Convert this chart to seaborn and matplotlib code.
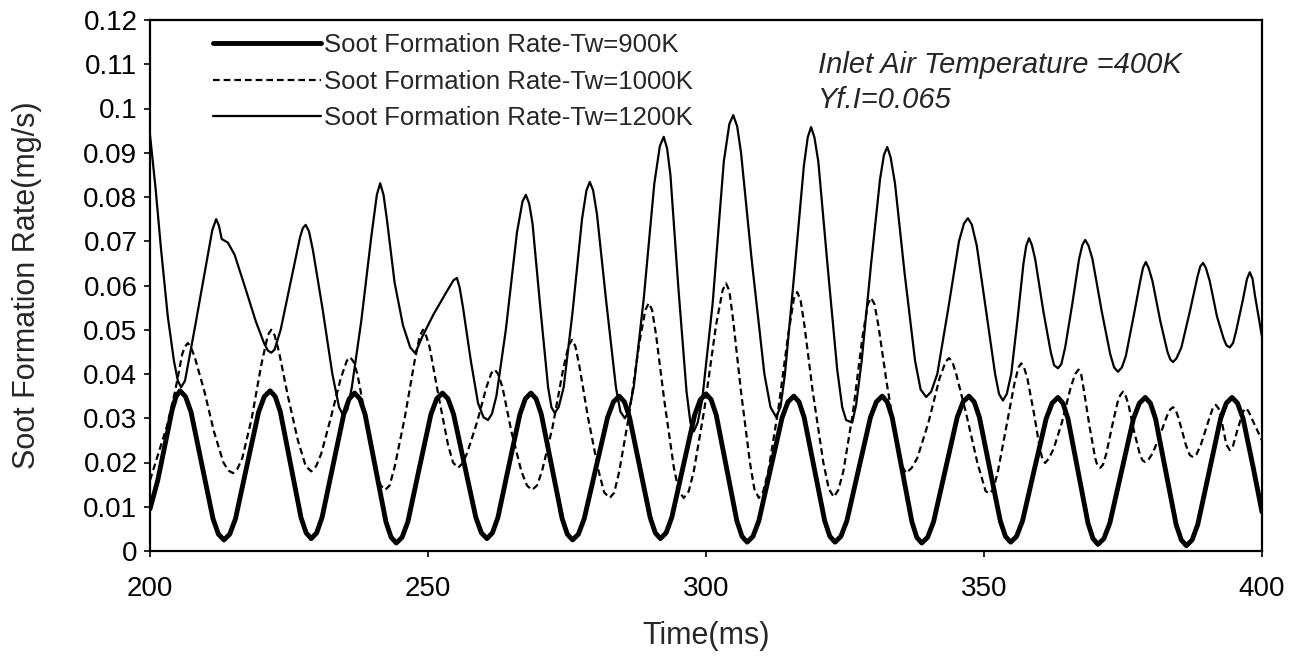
import matplotlib
matplotlib.use("Agg")
import matplotlib.pyplot as plt
import seaborn as sns
import pandas as pd

# ---- data (time in ms, rate in mg/s) ----
t900 = [200, 201.4, 202.7, 204.0, 204.7, 205.4,
        206.39, 207.38, 209.35, 211.33, 212.31, 213.3,
        214.34, 215.38, 217.45, 219.53, 220.56, 221.6,
        222.53, 223.45, 225.3, 227.15, 228.08, 229.0,
        229.98, 230.95, 232.9, 234.85, 235.83, 236.8,
        237.74, 238.68, 240.55, 242.43, 243.36, 244.3,
        245.34, 246.38, 248.45, 250.53, 251.56, 252.6,
        253.6, 254.6, 256.6, 258.6, 259.6, 260.6,
        261.59, 262.58, 264.55, 266.53, 267.51, 268.5,
        269.44, 270.38, 272.25, 274.13, 275.06, 276.0,
        277.05, 278.1, 280.2, 282.3, 283.35, 284.4,
        285.33, 286.25, 288.1, 289.95, 290.88, 291.8,
        292.83, 293.85, 295.9, 297.95, 298.98, 300.0,
        300.93, 301.85, 303.7, 305.55, 306.48, 307.4,
        308.45, 309.5, 311.6, 313.7, 314.75, 315.8,
        316.73, 317.65, 319.5, 321.35, 322.28, 323.2,
        324.26, 325.33, 327.45, 329.58, 330.64, 331.7,
        332.59, 333.48, 335.25, 337.03, 337.91, 338.8,
        339.86, 340.93, 343.05, 345.18, 346.24, 347.3,
        348.24, 349.18, 351.05, 352.93, 353.86, 354.8,
        355.86, 356.93, 359.05, 361.18, 362.24, 363.3,
        364.2, 365.1, 366.9, 368.7, 369.6, 370.5,
        371.56, 372.63, 374.75, 376.88, 377.94, 379.0,
        379.93, 380.85, 382.7, 384.55, 385.48, 386.4,
        387.43, 388.45, 390.5, 392.55, 393.58, 394.6,
        395.6, 396.6, 398.4, 400]
v900 = [0.0095, 0.0160, 0.0240, 0.0320, 0.0349, 0.0362,
        0.0349, 0.0314, 0.0194, 0.0073, 0.0038, 0.0025,
        0.0038, 0.0073, 0.0194, 0.0314, 0.0349, 0.0362,
        0.0349, 0.0314, 0.0195, 0.0076, 0.0041, 0.0028,
        0.0041, 0.0076, 0.0193, 0.0309, 0.0344, 0.0357,
        0.0344, 0.0309, 0.0188, 0.0066, 0.0031, 0.0018,
        0.0031, 0.0066, 0.0188, 0.0309, 0.0344, 0.0357,
        0.0344, 0.0309, 0.0193, 0.0076, 0.0041, 0.0028,
        0.0041, 0.0076, 0.0193, 0.0309, 0.0344, 0.0357,
        0.0344, 0.0309, 0.0191, 0.0073, 0.0038, 0.0025,
        0.0038, 0.0073, 0.0188, 0.0302, 0.0337, 0.0350,
        0.0337, 0.0302, 0.0189, 0.0076, 0.0041, 0.0028,
        0.0041, 0.0076, 0.0192, 0.0307, 0.0342, 0.0355,
        0.0342, 0.0307, 0.0188, 0.0068, 0.0033, 0.0020,
        0.0033, 0.0068, 0.0185, 0.0302, 0.0337, 0.0350,
        0.0337, 0.0302, 0.0185, 0.0068, 0.0033, 0.0020,
        0.0033, 0.0068, 0.0185, 0.0302, 0.0337, 0.0350,
        0.0337, 0.0302, 0.0184, 0.0066, 0.0031, 0.0018,
        0.0031, 0.0066, 0.0184, 0.0302, 0.0337, 0.0350,
        0.0337, 0.0302, 0.0185, 0.0068, 0.0033, 0.0020,
        0.0033, 0.0068, 0.0184, 0.0299, 0.0334, 0.0347,
        0.0334, 0.0299, 0.0181, 0.0063, 0.0028, 0.0015,
        0.0028, 0.0063, 0.0181, 0.0299, 0.0334, 0.0347,
        0.0334, 0.0299, 0.0180, 0.0060, 0.0025, 0.0012,
        0.0025, 0.0060, 0.0180, 0.0299, 0.0334, 0.0347,
        0.0334, 0.0299, 0.0190, 0.0088]

t1000 = [200, 201.5, 203.0, 204.5, 205.8, 206.3, 206.8, 207.3,
         208.0, 209.8, 211.5, 213.2, 214.1, 214.9, 215.7,
         216.6, 218.3, 220.0, 221.2, 221.8, 222.4,
         223.2, 224.8, 226.6, 228.0, 229.0, 229.9,
         230.8, 232.5, 234.3, 235.4, 236.0, 236.6,
         237.3, 238.8, 240.5, 241.5, 242.3, 243.1,
         244.0, 245.8, 247.6, 248.5, 249.1, 249.7,
         250.3, 251.9, 253.6, 254.5, 255.4, 256.2,
         257.0, 258.8, 260.5, 261.4, 262.0, 262.6,
         263.4, 265.0, 266.8, 267.8, 268.7, 269.6,
         270.5, 272.4, 274.3, 275.3, 275.9, 276.5,
         277.2, 278.8, 280.7, 281.7, 282.7, 283.5,
         284.4, 286.2, 288.0, 289.1, 289.7, 290.3,
         291.0, 292.5, 294.2, 295.1, 296.0, 296.9,
         297.8, 299.7, 301.8, 303.0, 303.6, 304.2,
         304.9, 306.3, 307.9, 308.7, 309.5, 310.3,
         311.2, 313.0, 314.8, 315.8, 316.4, 317.0,
         317.7, 319.2, 321.1, 322.1, 323.0, 323.8,
         324.7, 326.4, 328.1, 329.1, 329.7, 330.3,
         331.0, 332.5, 334.2, 335.1, 336.0, 337.0,
         338.0, 340.0, 342.0, 343.1, 343.7, 344.3,
         345.0, 346.8, 348.8, 350.3, 351.0, 351.7,
         352.5, 354.0, 355.5, 356.2, 356.7, 357.2,
         357.8, 359.0, 360.0, 360.5, 361.0, 361.6,
         362.5, 364.0, 365.6, 366.4, 367.0, 367.5,
         368.0, 369.0, 370.0, 370.4, 370.9, 371.4,
         372.0, 373.0, 374.0, 374.5, 375.0, 375.5,
         376.0, 377.0, 378.0, 378.5, 379.0, 379.6,
         380.3, 381.6, 382.9, 383.5, 384.0, 384.5,
         385.0, 386.3, 387.0, 387.6, 388.2,
         389.0, 390.4, 391.2, 391.7, 392.2,
         392.8, 393.6, 394.2, 394.8,
         395.5, 396.6, 397.1, 397.6, 398.5, 400]
v1000 = [0.016, 0.022, 0.028, 0.036, 0.0445, 0.0462, 0.0470, 0.0462,
         0.044, 0.036, 0.027, 0.020, 0.0182, 0.0176, 0.0185,
         0.021, 0.030, 0.042, 0.0488, 0.0500, 0.0488,
         0.045, 0.035, 0.025, 0.0192, 0.0180, 0.0192,
         0.022, 0.030, 0.039, 0.0430, 0.0438, 0.0428,
         0.040, 0.030, 0.019, 0.0148, 0.0138, 0.0148,
         0.019, 0.030, 0.043, 0.0485, 0.0500, 0.0485,
         0.046, 0.035, 0.024, 0.0200, 0.0188, 0.0198,
         0.022, 0.029, 0.037, 0.0402, 0.0410, 0.0400,
         0.037, 0.027, 0.018, 0.0148, 0.0138, 0.0148,
         0.018, 0.028, 0.041, 0.0465, 0.0477, 0.0463,
         0.042, 0.030, 0.018, 0.0132, 0.0120, 0.0132,
         0.018, 0.031, 0.047, 0.0545, 0.0560, 0.0545,
         0.049, 0.034, 0.019, 0.0135, 0.0120, 0.0135,
         0.018, 0.032, 0.051, 0.0590, 0.0605, 0.0588,
         0.052, 0.036, 0.020, 0.0140, 0.0120, 0.0135,
         0.018, 0.032, 0.049, 0.0570, 0.0585, 0.0568,
         0.051, 0.036, 0.020, 0.0140, 0.0122, 0.0138,
         0.018, 0.031, 0.048, 0.0558, 0.0572, 0.0558,
         0.051, 0.038, 0.025, 0.0195, 0.0176, 0.0188,
         0.021, 0.029, 0.039, 0.0428, 0.0436, 0.0428,
         0.040, 0.031, 0.020, 0.0135, 0.0130, 0.0140,
         0.018, 0.028, 0.038, 0.0415, 0.0424, 0.0415,
         0.039, 0.031, 0.0235, 0.0208, 0.0199, 0.0208,
         0.023, 0.029, 0.037, 0.0400, 0.0410, 0.0398,
         0.036, 0.028, 0.0210, 0.0193, 0.0188, 0.0195,
         0.022, 0.028, 0.0335, 0.0352, 0.0360, 0.0350,
         0.033, 0.027, 0.0220, 0.0205, 0.0201, 0.0207,
         0.022, 0.026, 0.0305, 0.0320, 0.0325, 0.0318,
         0.030, 0.024, 0.0217, 0.0212, 0.0218,
         0.024, 0.0295, 0.0325, 0.0330, 0.0322,
         0.029, 0.0240, 0.0228, 0.0238,
         0.027, 0.0315, 0.0323, 0.0315, 0.029, 0.025]

t1200 = [200, 201.0, 202.0, 203.2, 204.3, 205.0, 205.6, 206.3,
         208.0, 210.0, 211.2, 211.9, 212.4, 212.9, 214.0, 215.2,
         217.0, 219.0, 220.5, 221.2, 221.8, 222.4,
         223.5, 225.5, 227.0, 227.5, 228.0, 228.6,
         229.3, 231.0, 232.8, 234.0, 234.8, 235.5,
         236.3, 238.0, 239.8, 240.8, 241.4, 242.0,
         242.6, 244.0, 245.5, 246.8, 247.7,
         249.0, 251.0, 253.3, 254.6, 255.2, 255.7,
         256.3, 257.7, 259.0, 260.0, 260.8, 261.5,
         262.3, 264.0, 266.0, 267.0, 267.6, 268.2,
         268.8, 270.2, 271.6, 272.2, 272.8, 273.5,
         274.4, 276.0, 277.7, 278.5, 279.1, 279.7,
         280.4, 282.0, 283.8, 284.6, 285.4, 286.1,
         287.0, 288.8, 290.7, 291.7, 292.4, 293.0,
         293.6, 295.0, 296.5, 297.2, 297.8, 298.5,
         299.3, 301.2, 303.2, 304.2, 304.9, 305.6,
         306.3, 308.2, 310.5, 311.6, 312.6, 313.4,
         314.2, 315.9, 317.6, 318.3, 318.9, 319.5,
         320.2, 321.9, 323.6, 324.5, 325.2, 326.3, 327.0,
         328.0, 329.7, 331.3, 332.0, 332.6, 333.2,
         334.0, 335.7, 337.6, 338.6, 339.6, 340.5,
         341.6, 343.6, 345.5, 346.4, 347.1, 347.8,
         348.7, 350.4, 352.0, 352.7, 353.4, 354.1,
         354.9, 356.0, 357.1, 357.6, 358.1, 358.6,
         359.2, 360.7, 362.0, 362.6, 363.3, 363.9,
         364.6, 365.9, 367.1, 367.7, 368.2, 368.8,
         369.5, 371.2, 372.7, 373.4, 374.1, 374.8,
         375.5, 376.9, 378.1, 378.6, 379.1, 379.6,
         380.3, 381.7, 383.0, 383.5, 384.0, 384.6,
         385.5, 387.0, 388.4, 388.9, 389.4, 389.9,
         390.6, 391.9, 393.1, 393.6, 394.2, 394.8,
         395.4, 396.6, 397.3, 397.8, 398.3, 398.7, 400]
v1200 = [0.094, 0.082, 0.068, 0.053, 0.043, 0.0385, 0.0370, 0.0385,
         0.050, 0.064, 0.0725, 0.0750, 0.0735, 0.0705, 0.0697, 0.0670,
         0.060, 0.052, 0.0470, 0.0453, 0.0448, 0.0455,
         0.050, 0.062, 0.0710, 0.0730, 0.0737, 0.0722,
         0.068, 0.055, 0.040, 0.0325, 0.0305, 0.0320,
         0.037, 0.052, 0.071, 0.0805, 0.0831, 0.0805,
         0.075, 0.0606, 0.051, 0.0460, 0.0447,
         0.0485, 0.0535, 0.0585, 0.0612, 0.0617, 0.0595,
         0.055, 0.043, 0.0334, 0.0302, 0.0296, 0.0310,
         0.035, 0.050, 0.072, 0.0790, 0.0805, 0.0785,
         0.074, 0.055, 0.037, 0.0325, 0.0312, 0.0325,
         0.037, 0.054, 0.075, 0.0815, 0.0834, 0.0815,
         0.076, 0.057, 0.037, 0.0315, 0.0300, 0.0315,
         0.037, 0.057, 0.083, 0.0915, 0.0936, 0.0910,
         0.085, 0.060, 0.036, 0.0290, 0.0270, 0.0290,
         0.034, 0.056, 0.088, 0.0965, 0.0985, 0.0960,
         0.090, 0.066, 0.040, 0.0325, 0.0303, 0.0325,
         0.040, 0.063, 0.087, 0.0935, 0.0958, 0.0935,
         0.088, 0.064, 0.041, 0.0325, 0.0296, 0.0290, 0.0330,
         0.043, 0.065, 0.084, 0.0895, 0.0913, 0.0890,
         0.083, 0.063, 0.043, 0.0365, 0.0348, 0.0360,
         0.040, 0.055, 0.070, 0.0740, 0.0752, 0.0738,
         0.069, 0.054, 0.040, 0.0355, 0.0340, 0.0355,
         0.040, 0.052, 0.065, 0.0690, 0.0707, 0.0692,
         0.066, 0.054, 0.045, 0.0420, 0.0413, 0.0422,
         0.046, 0.056, 0.066, 0.0692, 0.0703, 0.0690,
         0.066, 0.054, 0.0445, 0.0415, 0.0405, 0.0415,
         0.044, 0.053, 0.061, 0.0640, 0.0653, 0.0640,
         0.061, 0.052, 0.045, 0.0433, 0.0427, 0.0435,
         0.046, 0.054, 0.062, 0.0643, 0.0651, 0.0640,
         0.061, 0.053, 0.048, 0.0465, 0.0460, 0.0470,
         0.050, 0.057, 0.0615, 0.0630, 0.0615, 0.058, 0.0484]

labels = ["Soot Formation Rate-Tw=900K",
          "Soot Formation Rate-Tw=1000K",
          "Soot Formation Rate-Tw=1200K"]
x_ticks = [200, 250, 300, 350, 400]
y_ticks = [0, 0.01, 0.02, 0.03, 0.04, 0.05, 0.06, 0.07, 0.08, 0.09, 0.1, 0.11, 0.12]
y_tick_labels = ["0", "0.01", "0.02", "0.03", "0.04", "0.05", "0.06",
                 "0.07", "0.08", "0.09", "0.1", "0.11", "0.12"]
x_label = "Time(ms)"
y_label = "Soot Formation Rate(mg/s)"
note_lines = ["Inlet Air Temperature =400K", "Yf.I=0.065"]

# ---- plotting ----
sns.set_style("ticks")
plt.rcParams["font.family"] = ["Liberation Sans", "DejaVu Sans"]

fig = plt.figure(figsize=(12.97, 6.57), dpi=100)
ax = fig.add_axes([150 / 1297, 1 - 551 / 657, 1112 / 1297, 531 / 657])

df900 = pd.DataFrame({"t": t900, "v": v900})
df1000 = pd.DataFrame({"t": t1000, "v": v1000})
df1200 = pd.DataFrame({"t": t1200, "v": v1200})

sns.lineplot(data=df900, x="t", y="v", ax=ax, color="black", linewidth=3.5,
             estimator=None, sort=False, label=labels[0],
             solid_joinstyle="round", solid_capstyle="round")
sns.lineplot(data=df1000, x="t", y="v", ax=ax, color="black", linewidth=1.6,
             estimator=None, sort=False, label=labels[1],
             linestyle=(0, (3.0, 1.8)), dash_joinstyle="round")
sns.lineplot(data=df1200, x="t", y="v", ax=ax, color="black", linewidth=1.6,
             estimator=None, sort=False, label=labels[2],
             solid_joinstyle="round")

ax.set_xlim(200, 400)
ax.set_ylim(0, 0.12)
ax.set_xticks(x_ticks)
ax.set_xticklabels([str(v) for v in x_ticks])
ax.set_yticks(y_ticks)
ax.set_yticklabels(y_tick_labels)
ax.tick_params(axis="both", labelsize=20, colors="black", length=4, width=1.2,
               direction="out")
ax.tick_params(axis="x", pad=14)
ax.tick_params(axis="y", pad=5)
ax.set_xlabel(x_label, fontsize=22, labelpad=14)
ax.set_ylabel(y_label, fontsize=22, labelpad=30)

for s in ax.spines.values():
    s.set_visible(True)
    s.set_linewidth(1.6)
    s.set_color("black")

ax.legend(loc="upper left", bbox_to_anchor=(0.0567, 0.975), frameon=False,
          fontsize=18.5, handlelength=4.2, handletextpad=0.12,
          labelspacing=0.48, borderaxespad=0.0, borderpad=0.0)

ax.text(0.6007, 0.915, note_lines[0], transform=ax.transAxes, fontsize=21,
        style="italic", ha="left", va="center")
ax.text(0.6007, 0.849, note_lines[1], transform=ax.transAxes, fontsize=21,
        style="italic", ha="left", va="center")

fig.savefig("out.png", dpi=100)
